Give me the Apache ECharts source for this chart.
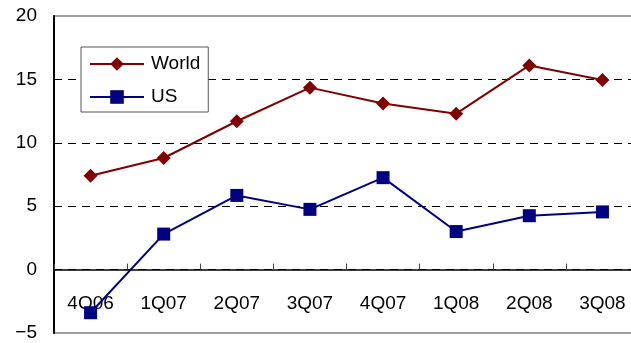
<!DOCTYPE html>
<html>
<head>
<meta charset="utf-8">
<script src="https://cdn.jsdelivr.net/npm/echarts@6/dist/echarts.min.js"></script>
<style>
  html, body { margin: 0; padding: 0; background: #fff; }
  #chart { width: 631px; height: 343px; }
</style>
</head>
<body>
<div id="chart"></div>
<script>
// Quarterly growth, world vs US
const quarters = ['4Q06', '1Q07', '2Q07', '3Q07', '4Q07', '1Q08', '2Q08', '3Q08'];
const worldValues = [7.4, 8.8, 11.7, 14.35, 13.1, 12.3, 16.1, 14.95];
const usValues = [-3.4, 2.8, 5.85, 4.75, 7.25, 3.0, 4.25, 4.55];
const yTicks = [-5, 0, 5, 10, 15, 20];

const font = '"Liberation Sans", Arial, sans-serif';

const chart = echarts.init(document.getElementById('chart'), null, { renderer: 'canvas' });

chart.setOption({
  animation: false,
  backgroundColor: '#ffffff',
  grid: {
    left: 54,
    top: 16,
    width: 585,
    height: 317,
    outerBoundsMode: 'none',
    containLabel: false,
    show: true,
    borderColor: '#a0a0a0',
    borderWidth: 2,
    backgroundColor: 'transparent'
  },
  legend: {
    left: 81,
    top: 47,
    orient: 'vertical',
    padding: [7.5, 8, 5.5, 8],
    itemWidth: 54,
    itemHeight: 17,
    itemGap: 14,
    borderColor: '#555555',
    borderWidth: 1,
    backgroundColor: '#ffffff',
    textStyle: {
      fontFamily: font,
      fontSize: 19,
      lineHeight: 19,
      color: '#000',
      padding: [0, 0, 0, 2]
    },
    data: ['World', 'US']
  },
  xAxis: {
    type: 'category',
    data: quarters,
    boundaryGap: true,
    axisLine: { onZero: true, lineStyle: { color: '#000', width: 1.5 } },
    axisTick: { show: true, inside: true, length: 6, lineStyle: { color: '#444' } },
    axisLabel: {
      fontFamily: font,
      fontSize: 19,
      color: '#000',
      margin: -39
    },
    splitLine: { show: false }
  },
  yAxis: {
    type: 'value',
    min: yTicks[0],
    max: yTicks[yTicks.length - 1],
    interval: 5,
    axisLine: { show: true, lineStyle: { color: '#000', width: 2 } },
    axisTick: { show: false },
    axisLabel: {
      fontFamily: font,
      fontSize: 19,
      color: '#000',
      margin: 17,
      formatter: v => String(v).replace('-', '\u2212')
    },
    splitLine: {
      show: true,
      showMinLine: false,
      showMaxLine: false,
      lineStyle: { color: '#000', width: 1, type: [8, 6] }
    }
  },
  series: [
    {
      name: 'World',
      type: 'line',
      data: worldValues,
      symbol: 'diamond',
      symbolSize: 14,
      itemStyle: { color: '#800000' },
      lineStyle: { color: '#800000', width: 2 },
      z: 3
    },
    {
      name: 'US',
      type: 'line',
      data: usValues,
      symbol: 'rect',
      symbolSize: 13,
      itemStyle: { color: '#000080' },
      lineStyle: { color: '#000080', width: 2 },
      z: 3
    }
  ]
});
</script>
</body>
</html>
